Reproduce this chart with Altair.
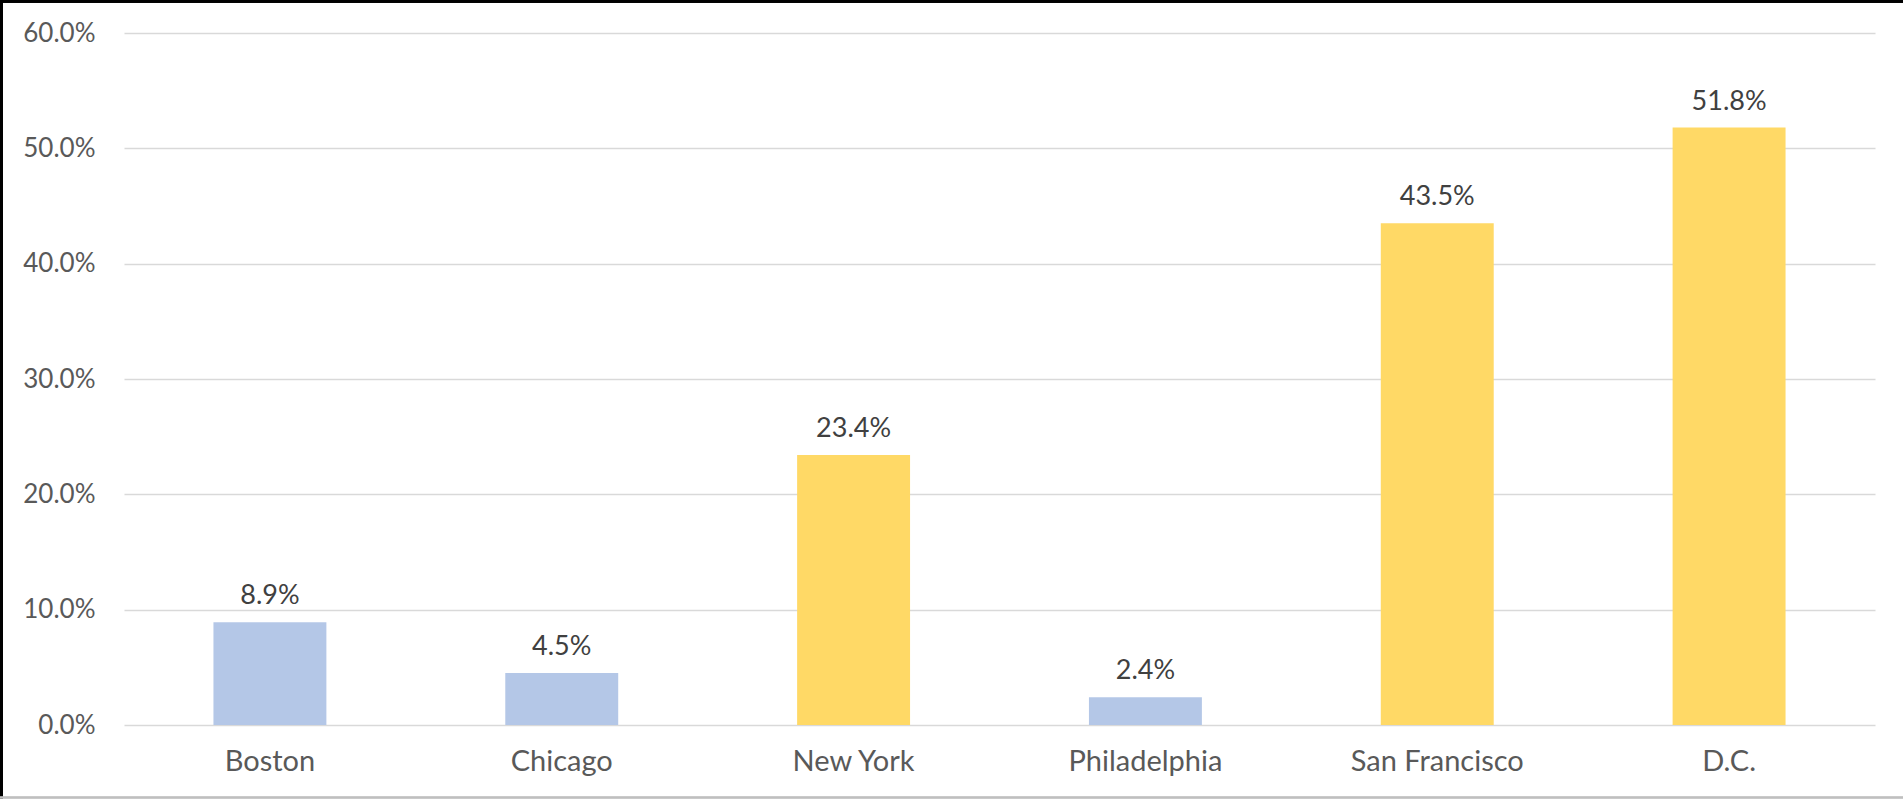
import altair as alt
import pandas as pd

cities = ["Boston", "Chicago", "New York", "Philadelphia", "San Francisco", "D.C."]
values = [0.089, 0.045, 0.234, 0.024, 0.435, 0.518]
groups = ["low", "low", "high", "low", "high", "high"]
y_ticks = [0, 0.1, 0.2, 0.3, 0.4, 0.5, 0.6]

df = pd.DataFrame({"city": cities, "value": values, "group": groups})

FONT = "Lato"
W, H = 1751, 692

x = alt.X("city:N", sort=cities, title=None,
          scale=alt.Scale(paddingInner=0.613, paddingOuter=0.3065),
          axis=alt.Axis(labelAngle=0, ticks=False, domain=False, labelPadding=22,
                        labelFontSize=29, labelColor="#595959", labelFont=FONT))
y = alt.Y("value:Q", title=None,
          scale=alt.Scale(domain=[0, 0.6], nice=False),
          axis=alt.Axis(values=y_ticks, format=".1%", ticks=False, domain=False,
                        labelPadding=29, labelFontSize=26, labelColor="#595959",
                        labelFont=FONT, gridColor="#D9D9D9", gridWidth=1.5))

bars = alt.Chart(df).mark_bar().encode(
    x=x, y=y,
    color=alt.Color("group:N", legend=None,
                    scale=alt.Scale(domain=["low", "high"], range=["#B4C7E7", "#FFD966"])),
)

labels = alt.Chart(df).mark_text(baseline="bottom", dy=-12, fontSize=27,
                                 color="#404040", font=FONT).encode(
    x=alt.X("city:N", sort=cities),
    y="value:Q",
    text=alt.Text("value:Q", format=".1%"),
)

border_top = alt.Chart(df).mark_rule(color="black", strokeWidth=3).encode(
    x=alt.value(-124), x2=alt.value(W + 28), y=alt.value(-32))
border_left = alt.Chart(df).mark_rule(color="black", strokeWidth=3).encode(
    x=alt.value(-122.5), y=alt.value(-33), y2=alt.value(H + 74))
border_bottom = alt.Chart(df).mark_rule(color="#BFBFBF", strokeWidth=1.5).encode(
    x=alt.value(-124), x2=alt.value(W + 28), y=alt.value(H + 72.5))

chart = alt.layer(bars, labels, border_top, border_left, border_bottom).properties(
    width=W, height=H,
    autosize=alt.AutoSizeParams(type="none"),
    padding={"left": 124, "top": 33, "right": 28, "bottom": 74},
    background="white",
).configure_view(stroke=None)

chart.save("out.html", embed_options={"renderer": "svg", "actions": False})
